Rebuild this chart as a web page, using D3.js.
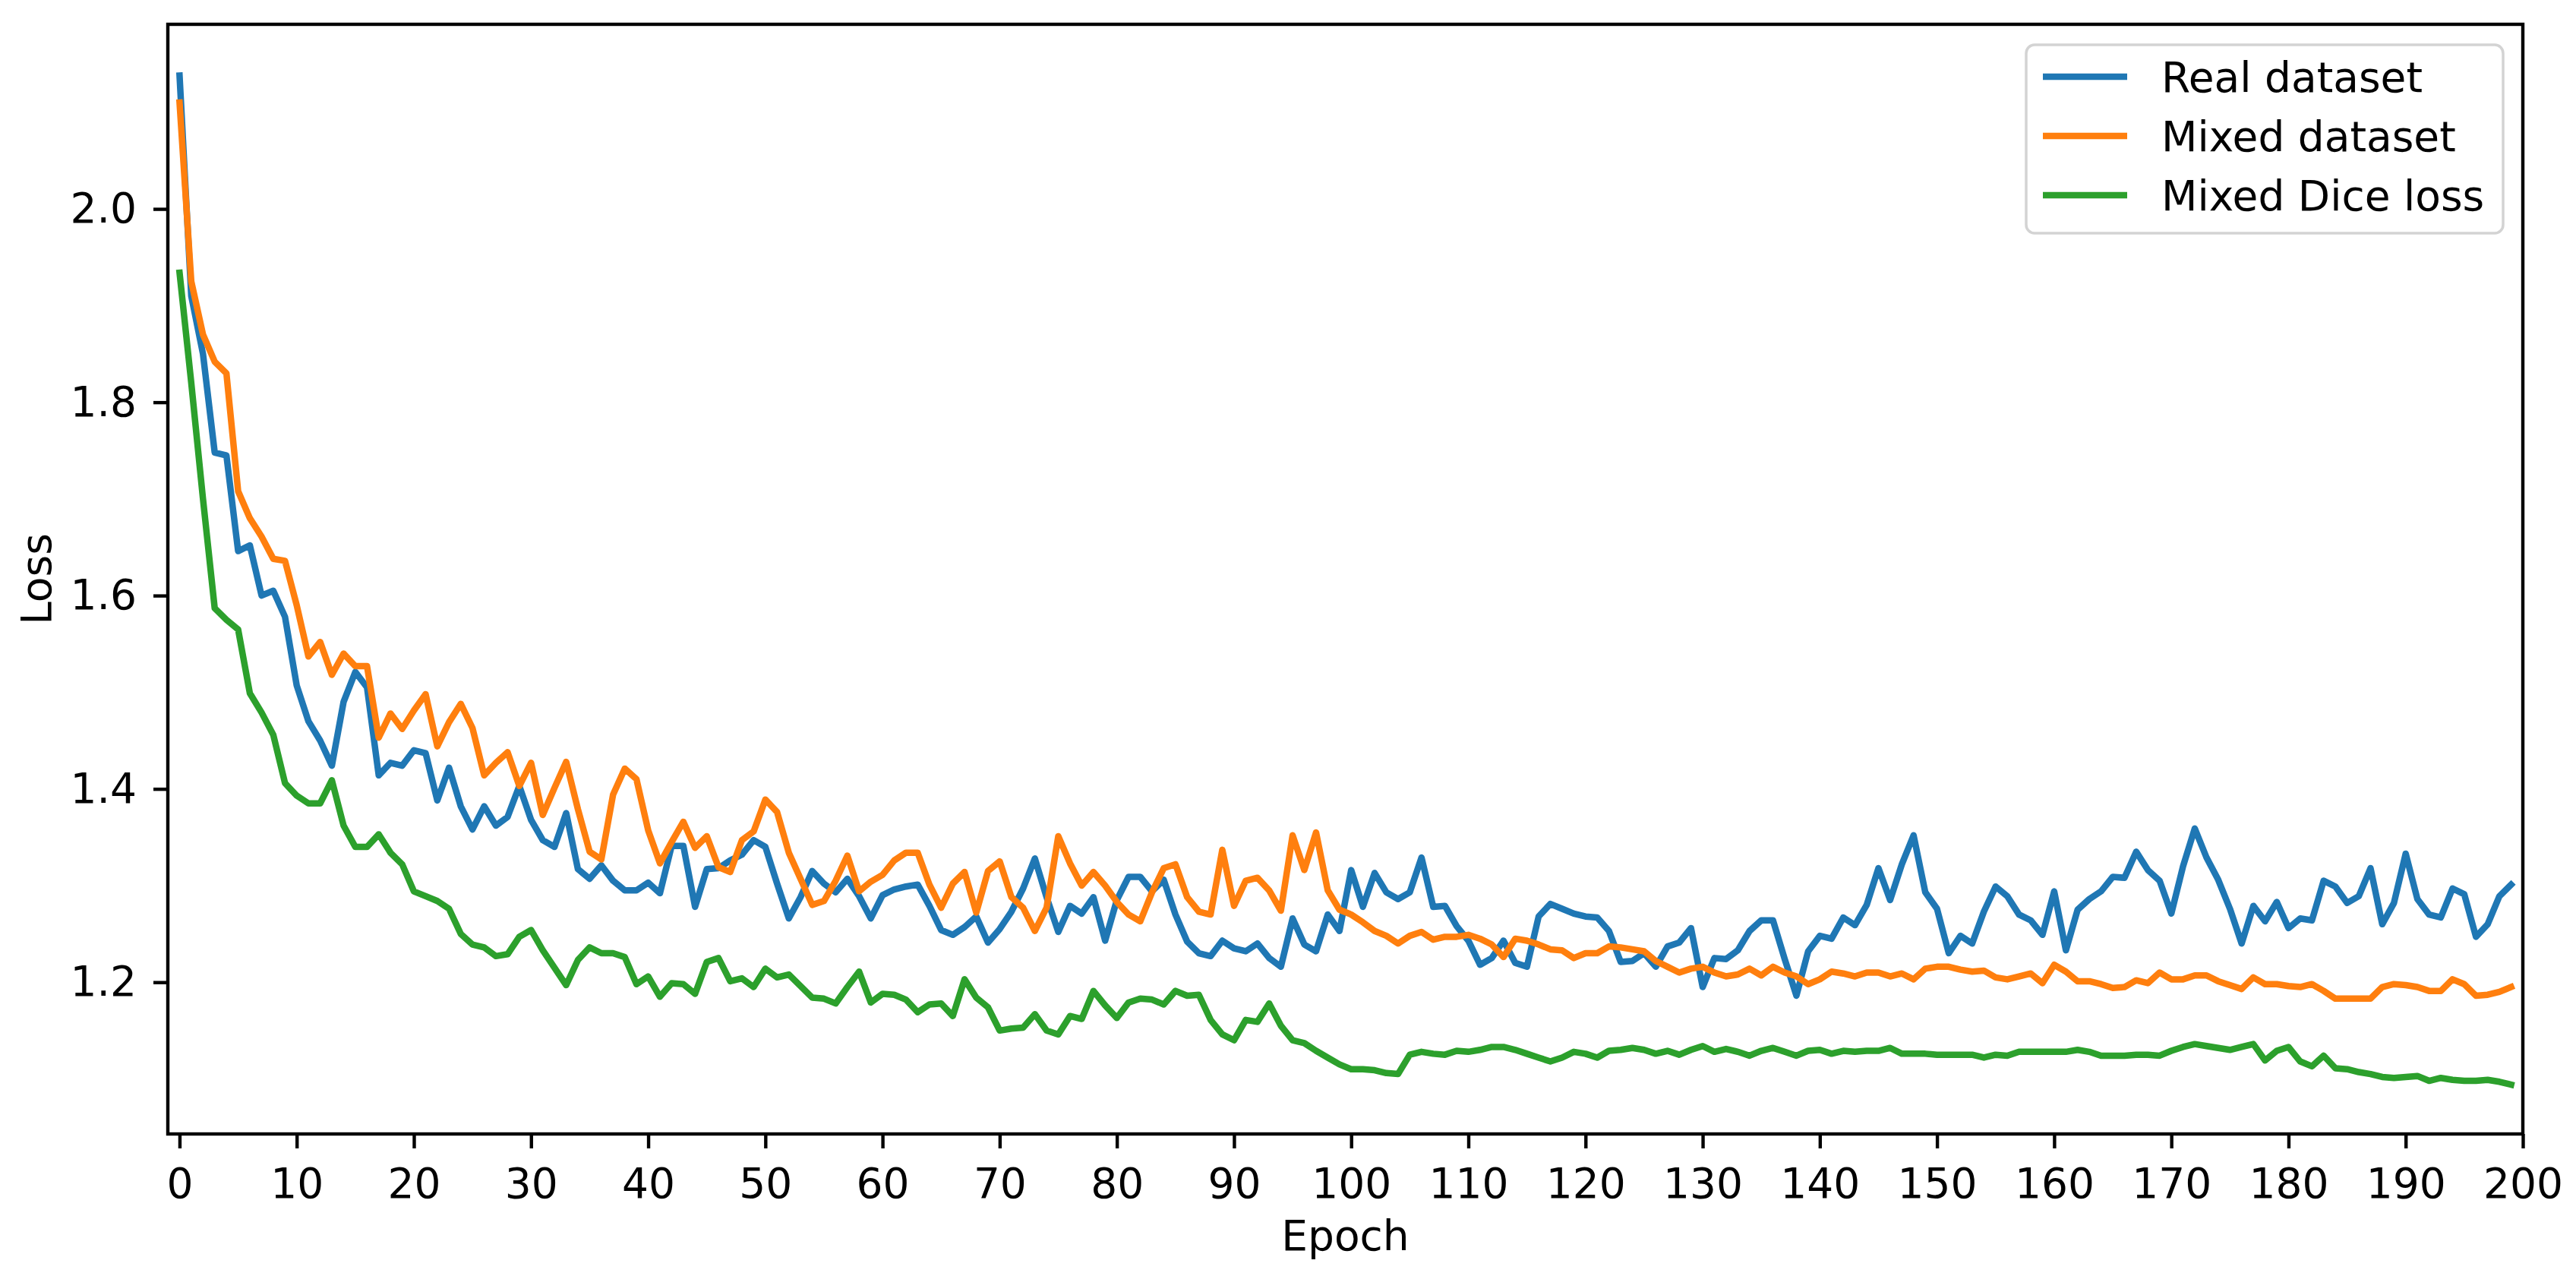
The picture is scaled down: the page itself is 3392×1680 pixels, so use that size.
<!DOCTYPE html>
<html><head><meta charset="utf-8">
<script src="https://cdn.jsdelivr.net/npm/d3@7"></script>
<style>html,body{margin:0;padding:0;background:#fff;} text{font-family:"DejaVu Sans",sans-serif;}</style>
</head><body><svg id="chart" width="3392" height="1680"></svg>
<script>
const epochs = d3.range(0, 200);
const realDataset = [2.138,1.91,1.85,1.748,1.745,1.646,1.652,1.600,1.605,1.578,
1.507,1.470,1.450,1.424,1.490,1.521,1.505,1.414,1.427,1.424,
1.440,1.437,1.388,1.422,1.382,1.358,1.382,1.362,1.371,1.403,
1.368,1.347,1.340,1.375,1.317,1.307,1.321,1.305,1.295,1.295,
1.303,1.292,1.341,1.341,1.278,1.317,1.318,1.326,1.332,1.347,
1.340,1.302,1.266,1.288,1.315,1.302,1.293,1.307,1.289,1.266,
1.290,1.296,1.299,1.301,1.279,1.254,1.249,1.257,1.268,1.241,
1.255,1.273,1.297,1.328,1.288,1.252,1.279,1.271,1.288,1.243,
1.285,1.309,1.309,1.294,1.306,1.270,1.242,1.230,1.227,1.243,
1.235,1.232,1.240,1.225,1.216,1.266,1.239,1.232,1.270,1.253,
1.316,1.278,1.313,1.293,1.286,1.293,1.329,1.278,1.279,1.258,
1.243,1.218,1.225,1.243,1.220,1.216,1.268,1.281,1.276,1.271,
1.268,1.267,1.253,1.221,1.222,1.230,1.216,1.237,1.241,1.256,
1.195,1.225,1.224,1.233,1.253,1.264,1.264,1.224,1.186,1.232,
1.248,1.245,1.267,1.259,1.280,1.318,1.285,1.322,1.352,1.293,
1.276,1.230,1.248,1.240,1.273,1.299,1.289,1.270,1.264,1.249,
1.294,1.233,1.275,1.286,1.294,1.309,1.308,1.335,1.316,1.305,
1.271,1.320,1.359,1.329,1.306,1.276,1.240,1.279,1.263,1.283,
1.256,1.266,1.264,1.305,1.299,1.282,1.289,1.318,1.260,1.282,
1.333,1.286,1.270,1.267,1.297,1.291,1.247,1.260,1.289,1.301];
const mixedDataset = [2.110,1.925,1.87,1.842,1.830,1.708,1.680,1.661,1.638,1.636,
1.590,1.537,1.552,1.518,1.540,1.527,1.527,1.453,1.478,1.462,
1.481,1.498,1.444,1.469,1.488,1.463,1.414,1.427,1.438,1.403,
1.427,1.373,1.401,1.428,1.379,1.335,1.327,1.394,1.421,1.410,
1.357,1.323,1.345,1.366,1.339,1.351,1.319,1.314,1.347,1.356,
1.389,1.376,1.334,1.307,1.280,1.284,1.305,1.331,1.294,1.304,
1.311,1.326,1.334,1.334,1.301,1.277,1.302,1.314,1.272,1.315,
1.325,1.288,1.277,1.253,1.277,1.351,1.323,1.300,1.314,1.300,
1.283,1.270,1.263,1.293,1.318,1.322,1.288,1.273,1.270,1.337,
1.279,1.305,1.308,1.295,1.274,1.352,1.316,1.355,1.295,1.275,
1.270,1.262,1.253,1.248,1.240,1.248,1.252,1.244,1.247,1.247,
1.249,1.245,1.239,1.226,1.245,1.243,1.239,1.234,1.233,1.225,
1.230,1.230,1.237,1.236,1.234,1.232,1.222,1.216,1.210,1.214,
1.216,1.210,1.206,1.208,1.214,1.207,1.216,1.210,1.206,1.198,
1.203,1.211,1.209,1.206,1.210,1.210,1.206,1.209,1.203,1.214,
1.216,1.216,1.213,1.211,1.212,1.205,1.203,1.206,1.209,1.199,
1.218,1.211,1.201,1.201,1.198,1.194,1.195,1.202,1.199,1.210,
1.203,1.203,1.207,1.207,1.201,1.197,1.193,1.205,1.198,1.198,
1.196,1.195,1.198,1.191,1.183,1.183,1.183,1.183,1.195,1.198,
1.197,1.195,1.191,1.191,1.203,1.198,1.186,1.187,1.190,1.195];
const mixedDiceLoss = [1.934,1.82,1.70,1.587,1.575,1.565,1.499,1.479,1.456,1.406,
1.393,1.385,1.385,1.409,1.362,1.340,1.340,1.353,1.334,1.322,
1.294,1.289,1.284,1.276,1.250,1.239,1.236,1.227,1.229,1.247,
1.254,1.233,1.215,1.197,1.223,1.236,1.230,1.230,1.226,1.198,
1.206,1.185,1.199,1.198,1.188,1.221,1.225,1.201,1.204,1.195,
1.214,1.205,1.208,1.196,1.184,1.183,1.178,1.195,1.211,1.179,
1.188,1.187,1.182,1.169,1.177,1.178,1.165,1.203,1.184,1.174,
1.150,1.152,1.153,1.167,1.150,1.146,1.165,1.162,1.191,1.176,
1.163,1.179,1.183,1.182,1.177,1.191,1.186,1.187,1.161,1.146,
1.140,1.161,1.159,1.178,1.155,1.140,1.137,1.129,1.122,1.115,
1.110,1.110,1.109,1.106,1.105,1.125,1.128,1.126,1.125,1.129,
1.128,1.130,1.133,1.133,1.130,1.126,1.122,1.118,1.122,1.128,
1.126,1.122,1.129,1.130,1.132,1.130,1.126,1.129,1.125,1.130,
1.134,1.128,1.131,1.128,1.124,1.129,1.132,1.128,1.124,1.129,
1.130,1.126,1.129,1.128,1.129,1.129,1.132,1.126,1.126,1.126,
1.125,1.125,1.125,1.125,1.122,1.125,1.124,1.128,1.128,1.128,
1.128,1.128,1.130,1.128,1.124,1.124,1.124,1.125,1.125,1.124,
1.129,1.133,1.136,1.134,1.132,1.130,1.133,1.136,1.119,1.129,
1.133,1.118,1.113,1.124,1.111,1.110,1.107,1.105,1.102,1.101,
1.102,1.103,1.098,1.101,1.099,1.098,1.098,1.099,1.097,1.094];
const seriesNames = ["Real dataset", "Mixed dataset", "Mixed Dice loss"];
const seriesColors = ["#1f77b4", "#ff7f0e", "#2ca02c"];
const xTicks = d3.range(0, 201, 10);
const yTicks = [1.2, 1.4, 1.6, 1.8, 2.0];

const L = 221, R = 3322, T = 32, B = 1493;
const FS = 55;
const svg = d3.select("#chart");
const x = d3.scaleLinear().domain([-1, 200]).range([L, R]);
const y = d3.scaleLinear().domain([1.043, 2.191]).range([B, T]);

const series = [realDataset, mixedDataset, mixedDiceLoss];
const line = d3.line().x((d, i) => x(epochs[i])).y(d => y(d));
svg.append("g").selectAll("path").data(series).join("path")
  .attr("d", d => line(d))
  .attr("fill", "none")
  .attr("stroke", (d, i) => seriesColors[i])
  .attr("stroke-width", 8.5)
  .attr("stroke-linejoin", "round")
  .attr("stroke-linecap", "square");

const xAxis = svg.append("g").attr("transform", `translate(0,${B})`)
  .call(d3.axisBottom(x).tickValues(xTicks).tickFormat(d3.format("d")).tickSize(19).tickSizeOuter(0).tickPadding(26));
const yAxis = svg.append("g").attr("transform", `translate(${L},0)`)
  .call(d3.axisLeft(y).tickValues(yTicks).tickFormat(d3.format(".1f")).tickSize(19).tickSizeOuter(0).tickPadding(22));
[xAxis, yAxis].forEach(g => {
  g.select(".domain").remove();
  g.selectAll(".tick line").attr("stroke", "#000").attr("stroke-width", 4.4);
  g.selectAll(".tick text").attr("font-size", FS).attr("fill", "#000").style("font-family", "'DejaVu Sans', sans-serif");
});

svg.append("rect").attr("x", L).attr("y", T).attr("width", R - L).attr("height", B - T)
  .attr("fill", "none").attr("stroke", "#000").attr("stroke-width", 4.4);

svg.append("text").attr("x", (L + R) / 2).attr("y", 1646).attr("text-anchor", "middle")
  .attr("font-size", FS).text("Epoch");
svg.append("text").attr("transform", `translate(67,${(T + B) / 2}) rotate(-90)`).attr("text-anchor", "middle")
  .attr("font-size", FS).text("Loss");

const lg = svg.append("g");
lg.append("rect").attr("x", 2668).attr("y", 59).attr("width", 628).attr("height", 248)
  .attr("rx", 11).attr("fill", "#fff").attr("fill-opacity", 0.8)
  .attr("stroke", "#d3d3d3").attr("stroke-width", 3.5);
seriesNames.forEach((name, i) => {
  const cy = 101 + i * 78;
  lg.append("line").attr("x1", 2690).attr("x2", 2801).attr("y1", cy).attr("y2", cy)
    .attr("stroke", seriesColors[i]).attr("stroke-width", 8.5);
  lg.append("text").attr("x", 2846).attr("y", cy + 20).attr("font-size", FS).text(name);
});
</script></body></html>
